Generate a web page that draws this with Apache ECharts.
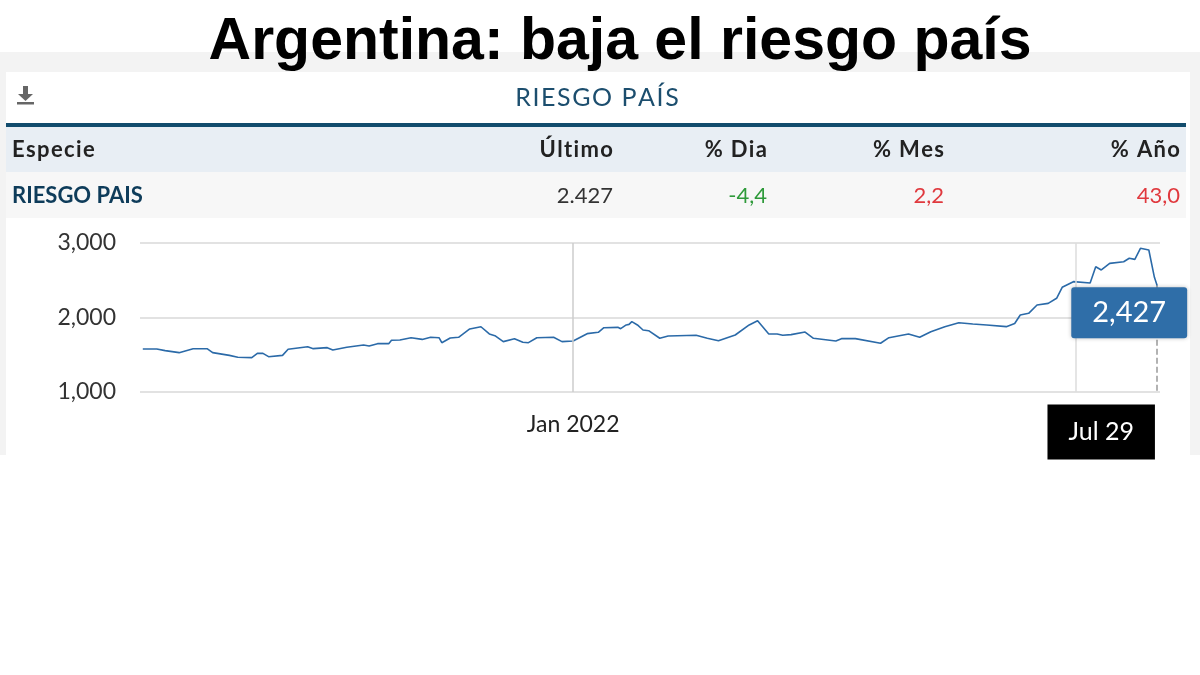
<!DOCTYPE html>
<html><head><meta charset="utf-8">
<script src="https://cdn.jsdelivr.net/npm/echarts@6/dist/echarts.min.js"></script>
<style>html,body{margin:0;padding:0;background:#fff}#c{width:1200px;height:675px}</style>
</head><body><div id="c"></div>
<script>
const dates = ["2021-07-31","2021-08-05","2021-08-08","2021-08-13","2021-08-18","2021-08-23","2021-08-25","2021-08-31","2021-09-03","2021-09-08","2021-09-10","2021-09-12","2021-09-14","2021-09-19","2021-09-21","2021-09-28","2021-09-30","2021-10-05","2021-10-07","2021-10-12","2021-10-18","2021-10-20","2021-10-23","2021-10-27","2021-10-28","2021-10-31","2021-11-04","2021-11-08","2021-11-11","2021-11-14","2021-11-15","2021-11-18","2021-11-21","2021-11-25","2021-11-29","2021-12-02","2021-12-04","2021-12-07","2021-12-11","2021-12-14","2021-12-16","2021-12-19","2021-12-25","2021-12-28","2022-01-01","2022-01-06","2022-01-10","2022-01-12","2022-01-17","2022-01-18","2022-01-20","2022-01-21","2022-01-22","2022-01-24","2022-01-26","2022-01-28","2022-02-01","2022-02-04","2022-02-14","2022-02-18","2022-02-22","2022-02-28","2022-03-05","2022-03-08","2022-03-12","2022-03-15","2022-03-17","2022-03-20","2022-03-25","2022-03-28","2022-04-05","2022-04-07","2022-04-12","2022-04-21","2022-04-24","2022-05-01","2022-05-05","2022-05-09","2022-05-14","2022-05-19","2022-05-24","2022-05-29","2022-06-05","2022-06-08","2022-06-10","2022-06-13","2022-06-16","2022-06-20","2022-06-23","2022-06-25","2022-06-29","2022-07-05","2022-07-07","2022-07-09","2022-07-12","2022-07-17","2022-07-19","2022-07-21","2022-07-23","2022-07-26","2022-07-28","2022-07-29"];
const values = [1577,1577,1555,1528,1581,1581,1528,1492,1466,1462,1519,1519,1474,1492,1573,1608,1582,1595,1564,1600,1630,1617,1649,1649,1694,1698,1729,1706,1734,1729,1662,1725,1734,1846,1876,1779,1756,1676,1716,1667,1662,1729,1734,1676,1685,1783,1801,1863,1868,1850,1900,1908,1944,1900,1832,1823,1721,1752,1761,1721,1689,1765,1900,1957,1779,1779,1761,1770,1805,1721,1685,1716,1716,1654,1729,1779,1734,1809,1877,1930,1912,1900,1877,1920,2034,2056,2168,2190,2258,2405,2481,2463,2682,2638,2727,2749,2795,2780,2929,2906,2539,2427];
const yTicks = [1000, 2000, 3000];
const tableHeader = ["Especie","Último","% Dia","% Mes","% Año"];
const tableRow = ["RIESGO PAIS","2.427","-4,4","2,2","43,0"];
const lastDate = dates[dates.length-1], lastVal = values[values.length-1];

const chart = echarts.init(document.getElementById('c'));
const F = 'Lato, "Open Sans", sans-serif';
const sp = s => s.split('').join('\u200A');
const colX = [12, 613, 767, 944, 1180];
const rowColors = ['#0e3c5a','#333','#2e9a3a','#e0393e','#e0393e'];
const g = [
  {type:'rect',shape:{x:0,y:52,width:1200,height:403},style:{fill:'#f3f3f3'}},
  {type:'rect',shape:{x:6,y:72,width:1184,height:383},style:{fill:'#fff'}},
  {type:'text',style:{text:'Argentina: baja el riesgo país',x:620,y:43,align:'center',verticalAlign:'middle',font:'bold 59px "Liberation Sans", Arial, sans-serif',fill:'#000'}},
  {type:'rect',shape:{x:17,y:102,width:17,height:2.5},style:{fill:'#666'}},
  {type:'polygon',shape:{points:[[18,94],[33,94],[25.5,101]]},style:{fill:'#666'}},
  {type:'rect',shape:{x:23,y:86,width:5,height:9},style:{fill:'#666'}},
  {type:'text',style:{text:sp('RIESGO PAÍS'),x:597,y:98,align:'center',verticalAlign:'middle',font:'25px '+F,fill:'#1c4e6e'}},
  {type:'rect',shape:{x:6,y:123,width:1180,height:4},style:{fill:'#124c6d'}},
  {type:'rect',shape:{x:6,y:127,width:1180,height:45},style:{fill:'#e8eef4'}},
  {type:'rect',shape:{x:6,y:172,width:1180,height:46},style:{fill:'#f7f7f7'}}
];
tableHeader.forEach((t,i)=>g.push({type:'text',style:{text:sp(t),x:colX[i],y:150,align:i?'right':'left',verticalAlign:'middle',font:'bold 22px '+F,fill:'#222'}}));
tableRow.forEach((t,i)=>g.push({type:'text',style:{text:t,x:colX[i],y:196,align:i?'right':'left',verticalAlign:'middle',font:(i?'':'bold ')+'22px '+F,fill:rowColors[i]}}));

chart.setOption({
  animation:false,
  graphic:g,
  grid:{left:140,right:40,top:243,bottom:283},
  xAxis:{type:'time',min:'2021-07-30',max:'2022-07-30',axisLine:{show:false},axisTick:{show:false},axisLabel:{show:false},splitLine:{show:false}},
  yAxis:{type:'value',min:yTicks[0],max:yTicks[yTicks.length-1],interval:1000,
    axisLabel:{fontSize:23,color:'#333',fontFamily:F,margin:24,formatter:v=>v.toLocaleString('en-US')},
    splitLine:{lineStyle:{color:'#d8d8d8',width:1.5}},axisLine:{show:false},axisTick:{show:false}},
  series:[{type:'line',data:dates.map((d,i)=>[d,values[i]]),symbol:'none',lineStyle:{color:'#2b6aa8',width:1.6},
    markLine:{symbol:'none',silent:true,data:[
      [{coord:['2022-01-01',1000],lineStyle:{color:'#ccc',type:'solid',width:1.5},label:{show:false}},{coord:['2022-01-01',3000]}],
      [{coord:['2022-06-30',1000],lineStyle:{color:'#ddd',type:'solid',width:1.5},label:{show:false}},{coord:['2022-06-30',3000]}],
      [{coord:[lastDate,lastVal],lineStyle:{color:'#999',type:'dashed',width:1.5},label:{show:false}},{coord:[lastDate,1000]}]
    ]},
    markPoint:{silent:true,symbol:'circle',symbolSize:1,itemStyle:{color:'rgba(0,0,0,0)'},data:[
      {coord:['2022-01-01',1000],label:{show:true,position:'inside',formatter:'Jan 2022',fontSize:23,fontFamily:F,color:'#222',offset:[0,33]}},
      {coord:[lastDate,lastVal],label:{show:true,position:'inside',formatter:lastVal.toLocaleString('en-US'),fontSize:29,fontFamily:F,color:'#fff',backgroundColor:'#2f6ea8',padding:[11,21],borderRadius:3,shadowColor:'rgba(0,0,0,0.25)',shadowBlur:4,offset:[-28,27]}},
      {coord:[lastDate,1000],label:{show:true,position:'inside',formatter:'Jul 29',fontSize:25,fontFamily:F,color:'#fff',backgroundColor:'#000',padding:[15,21],offset:[-56,40]}}
    ]}
  }]
});
</script></body></html>
